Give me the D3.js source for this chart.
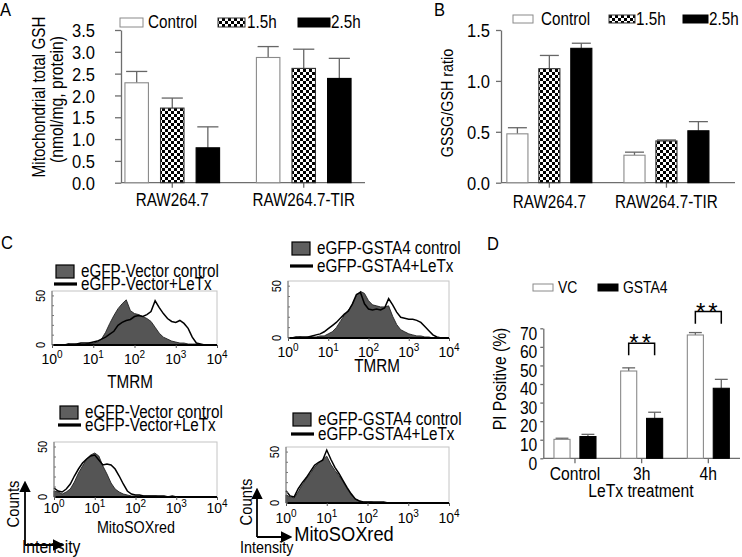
<!DOCTYPE html>
<html><head><meta charset="utf-8">
<script src="https://cdn.jsdelivr.net/npm/d3@7"></script>
<style>body{margin:0;background:#fff}svg{display:block;font-family:"Liberation Sans",Arial,sans-serif}</style>
</head><body><svg id="c" width="742" height="557"></svg>
<script>
// ---------------- DATA ----------------
// Panels A / B
const groupsAB = ["RAW264.7", "RAW264.7-TIR"];
const seriesAB = ["Control", "1.5h", "2.5h"];
const gshControl = [2.29, 2.87];
const gsh15h = [1.71, 2.62];
const gsh25h = [0.80, 2.39];
const gshControlErr = [0.26, 0.25];
const gsh15hErr = [0.23, 0.44];
const gsh25hErr = [0.48, 0.46];
const ratioControl = [0.48, 0.27];
const ratio15h = [1.12, 0.41];
const ratio25h = [1.32, 0.51];
const ratioControlErr = [0.06, 0.03];
const ratio15hErr = [0.13, 0.01];
const ratio25hErr = [0.05, 0.09];
const ticksA = [0, 0.5, 1.0, 1.5, 2.0, 2.5, 3.0, 3.5];
const ticksB = [0, 0.5, 1.0, 1.5];

// Panel D
const treatments = ["Control", "3h", "4h"];
const seriesD = ["VC", "GSTA4"];
const piVC = [10.2, 47.0, 66.4];
const piVCErr = [0.6, 1.7, 1.3];
const piGSTA4 = [11.7, 21.5, 37.7];
const piGSTA4Err = [1.2, 3.3, 4.8];
const ticksD = [0, 10, 20, 30, 40, 50, 60, 70];
const sigTreatments = ["3h", "4h"];
const sigLevels = [62, 79];
const sigLabels = ["**", "**"];

// Panel C histograms: counts at log10(intensity) = 0.0, 0.1, ... 4.0
const histLogPos = d3.range(0, 41).map(i => i / 10);
const histExponents = [0, 1, 2, 3, 4];
const histYTicks = [0, 50];
const tmrmVectorCtrl = [0,0,0,0,1,0,1,1,1,2, 2,3,6,13,22,30,37,42,46,35, 32,31,29,27,24,18,12,8,6,4, 3,2,2,1,1,1,0,0,0,0,0];
const tmrmVectorLeTx = [0,0,0,0,1,1,1,2,2,2, 3,4,6,8,11,14,20,23,25,26, 29,30,29,31,34,45,38,32,27,24, 23,25,22,17,8,2,1,0,0,0,0];
const tmrmGSTA4Ctrl = [0,0,0,1,0,1,1,1,2,2, 4,6,10,16,22,27,32,41,45,43, 36,32,31,30,30,31,21,13,8,6, 4,3,2,2,1,1,0,0,0,0,0];
const tmrmGSTA4LeTx = [0,0,1,1,1,1,2,3,4,6, 9,12,15,19,23,26,33,42,44,33, 28,27,28,27,29,38,32,25,20,19, 18,18,17,15,11,7,3,1,0,0,0];
const msxVectorCtrl = [6,5,3,5,8,15,24,31,38,42, 44,41,31,23,14,8,5,3,2,1, 1,1,1,1,1,1,0,0,0,0, 0,0,0,0,0,0,0,0,0,0,0];
const msxVectorLeTx = [9,6,5,8,13,21,28,34,38,41, 42,37,32,33,32,28,21,13,6,3, 2,2,1,1,1,1,1,1,0,1, 0,0,0,0,0,0,0,0,0,0,0];
const msxGSTA4Ctrl = [8,6,5,11,18,24,29,35,39,43, 46,38,32,27,21,14,8,4,2,1, 1,1,0,0,0,0,0,0,0,0, 0,0,0,0,0,0,0,0,0,0,0];
const msxGSTA4LeTx = [12,7,6,14,20,25,31,37,40,42, 52,43,35,29,22,15,9,4,2,1, 1,1,1,1,1,0,0,0,0,0, 0,0,0,0,0,0,0,0,0,0,0];

// ---------------- DRAW ----------------
const svg = d3.select("#c");
svg.append("rect").attr("width", 742).attr("height", 557).attr("fill", "#fff");
const defs = svg.append("defs");
const pat = defs.append("pattern").attr("id", "chk").attr("width", 6).attr("height", 6).attr("patternUnits", "userSpaceOnUse");
pat.append("rect").attr("width", 6).attr("height", 6).attr("fill", "#fff");
pat.append("rect").attr("width", 3).attr("height", 3).attr("fill", "#000");
pat.append("rect").attr("x", 3).attr("y", 3).attr("width", 3).attr("height", 3).attr("fill", "#000");

const AXIS = "#6e6e6e";
const NARROW = 0.87;
const fillFor = { "Control": "#fff", "1.5h": "url(#chk)", "2.5h": "#000", "VC": "#fff", "GSTA4": "#000" };
const strokeFor = { "Control": "#8a8a8a", "1.5h": "#333", "2.5h": "#000", "VC": "#8a8a8a", "GSTA4": "#000" };

function text(g, x, y, s, size, anchor, rot) {
  const t = g.append("text").attr("x", x).attr("y", y).attr("font-size", size).attr("fill", "#000")
    .attr("text-anchor", anchor || "start").text(s);
  if (rot) t.attr("transform", `rotate(${rot},${x},${y})`);
  return t;
}

function barPanel(cfg) {
  const g = svg.append("g");
  const x0 = d3.scaleBand().domain(cfg.groups).range(cfg.xRange).paddingInner(cfg.pIn).paddingOuter(cfg.pOut);
  const x1 = d3.scaleBand().domain(cfg.series).range([0, x0.bandwidth()]).paddingInner(cfg.sPad).paddingOuter(0);
  const y = d3.scaleLinear().domain(cfg.yDomain).range([cfg.yBottom, cfg.yTop]);
  const ya = g.append("g").attr("transform", `translate(${cfg.axisX},0)`)
    .call(d3.axisLeft(y).tickValues(cfg.ticks).tickFormat(cfg.fmt).tickSize(cfg.tickSize).tickSizeOuter(0).tickPadding(cfg.tickPad));
  ya.selectAll("path,line").attr("stroke", AXIS).attr("stroke-width", 1.3);
  ya.selectAll("text").attr("font-size", cfg.tickFont).attr("font-family", null).attr("fill", "#000").attr("dy", cfg.tickDy || "0.35em");
  g.append("line").attr("x1", cfg.axisX).attr("x2", cfg.xEnd).attr("y1", y(0)).attr("y2", y(0)).attr("stroke", AXIS).attr("stroke-width", 1.3);
  const xa = g.append("g").attr("transform", `translate(0,${y(0)})`)
    .call(d3.axisBottom(x0).tickSize(5).tickPadding(cfg.xPad));
  xa.select(".domain").remove();
  xa.selectAll("line").attr("stroke", AXIS).attr("stroke-width", 1.3);
  xa.selectAll("text").attr("font-size", cfg.xFont).attr("font-family", null).attr("fill", "#000");
  cfg.groups.forEach((grp, gi) => {
    cfg.series.forEach((s, si) => {
      const v = cfg.values[si][gi], e = cfg.errors[si][gi];
      const bx = x0(grp) + x1(s), bw = x1.bandwidth();
      const cx = bx + bw / 2;
      g.append("line").attr("x1", cx).attr("x2", cx).attr("y1", y(v)).attr("y2", y(v + e)).attr("stroke", "#666").attr("stroke-width", 1.3);
      g.append("line").attr("x1", cx - bw * cfg.cap / 2).attr("x2", cx + bw * cfg.cap / 2).attr("y1", y(v + e)).attr("y2", y(v + e)).attr("stroke", "#666").attr("stroke-width", 1.3);
      g.append("rect").attr("x", bx).attr("y", y(v)).attr("width", bw).attr("height", y(0) - y(v))
        .attr("fill", fillFor[s]).attr("stroke", strokeFor[s]).attr("stroke-width", 1.1);
    });
  });
  return { g, x0, x1, y };
}

// ---------- Panel A ----------
text(svg, 0, 16, "A", 19);
barPanel({
  groups: groupsAB, series: seriesAB, xRange: [121, 355], pIn: 0.28, pOut: 0.03, sPad: 0.34,
  yDomain: [0, 3.5], yBottom: 182.7, yTop: 30, axisX: 121, xEnd: 365, ticks: ticksA, fmt: d3.format(".1f"),
  tickSize: 6, tickPad: 20, tickFont: 19, xPad: 6, xFont: 17.5, cap: 0.9,
  values: [gshControl, gsh15h, gsh25h], errors: [gshControlErr, gsh15hErr, gsh25hErr]
});
text(svg, 45, 97, "Mitochondrial total GSH", 17.5, "middle", -90);
text(svg, 63, 99.5, "(nmol/mg, protein)", 18, "middle", -90);
[[120, 23, 148], [218, 27, 247], [298, 32, 331]].forEach((p, i) => {
  svg.append("rect").attr("x", p[0]).attr("y", 18).attr("width", p[1]).attr("height", 9)
    .attr("fill", fillFor[seriesAB[i]]).attr("stroke", strokeFor[seriesAB[i]]);
  text(svg, p[2], 28, seriesAB[i], 17.5);
});

// ---------- Panel B ----------
text(svg, 434, 16, "B", 19);
barPanel({
  groups: groupsAB, series: seriesAB, xRange: [501, 714.8], pIn: 0.274, pOut: 0.05, sPad: 0.34,
  yDomain: [0, 1.5], yBottom: 182.7, yTop: 30, axisX: 501, xEnd: 735, ticks: ticksB, fmt: d3.format(".1f"),
  tickSize: 5, tickPad: 6, tickFont: 19, xPad: 8, xFont: 17.5, cap: 0.9,
  values: [ratioControl, ratio15h, ratio25h], errors: [ratioControlErr, ratio15hErr, ratio25hErr]
});
text(svg, 453, 103, "GSSG/GSH ratio", 16.5, "middle", -90);
[[513, 20, 541], [609, 26, 636], [683, 25, 709]].forEach((p, i) => {
  svg.append("rect").attr("x", p[0]).attr("y", 15).attr("width", p[1]).attr("height", 8)
    .attr("fill", fillFor[seriesAB[i]]).attr("stroke", strokeFor[seriesAB[i]]);
  text(svg, p[2], 25, seriesAB[i], 17.5);
});

// ---------- Panel C ----------
text(svg, 1, 249, "C", 19);
function histPanel(cfg) {
  const g = svg.append("g");
  const x = d3.scaleLog().domain([1, 1e4]).range([cfg.x0, cfg.x1]);
  const y = d3.scaleLinear().domain([0, 55]).range([cfg.bottom, cfg.top]);
  g.append("rect").attr("x", cfg.x0).attr("y", cfg.top).attr("width", cfg.x1 - cfg.x0).attr("height", cfg.bottom - cfg.top)
    .attr("fill", "none").attr("stroke", "#c4c4c4").attr("stroke-width", 1);
  const px = d => x(Math.pow(10, d));
  const area = d3.area().x((d, i) => px(histLogPos[i])).y0(cfg.bottom).y1(d => y(d));
  const line = d3.line().x((d, i) => px(histLogPos[i])).y(d => y(d));
  g.append("path").attr("d", area(cfg.ctrl)).attr("fill", "#555").attr("stroke", "#222").attr("stroke-width", 0.9);
  g.append("path").attr("d", line(cfg.letx)).attr("fill", "none").attr("stroke", "#000").attr("stroke-width", 1.5);
  g.append("line").attr("x1", cfg.x0).attr("x2", cfg.x1).attr("y1", cfg.bottom).attr("y2", cfg.bottom).attr("stroke", "#000").attr("stroke-width", 2.2);
  g.append("line").attr("x1", cfg.x0).attr("x2", cfg.x0).attr("y1", cfg.bottom).attr("y2", cfg.top).attr("stroke", "#777").attr("stroke-width", 1);
  const xa = g.append("g").attr("transform", `translate(0,${cfg.bottom})`)
    .call(d3.axisBottom(x).ticks(4).tickSize(3).tickFormat(""));
  xa.select(".domain").remove();
  xa.selectAll("line").attr("stroke", "#555");
  histExponents.forEach(ex => {
    const t = g.append("text").attr("x", x(Math.pow(10, ex))).attr("y", cfg.bottom + cfg.tickOff).attr("font-size", 14)
      .attr("text-anchor", "middle").attr("fill", "#000");
    t.append("tspan").text("10");
    t.append("tspan").attr("dy", -6).attr("font-size", 10).text(String(ex));
  });
  d3.range(0, 51, 10).forEach(v => g.append("line").attr("x1", cfg.x0).attr("x2", cfg.x0 + 2).attr("y1", y(v)).attr("y2", y(v)).attr("stroke", "#777"));
  histYTicks.forEach(v => text(g, cfg.x0 - 7, y(v), String(v), 12.5, "middle", -90));
  text(g, cfg.titleX, cfg.titleY, cfg.title, cfg.titleFont, "middle");
  g.append("rect").attr("x", cfg.lx).attr("y", cfg.ly1 - 12).attr("width", 18).attr("height", 13)
    .attr("fill", "#5f5f5f").attr("stroke", "#000").attr("stroke-width", 1.2);
  text(g, cfg.lx + 25, cfg.ly1, cfg.names[0], 17.5);
  g.append("line").attr("x1", cfg.lx - 2).attr("x2", cfg.lx + 21).attr("y1", cfg.ly2 - 6).attr("y2", cfg.ly2 - 6)
    .attr("stroke", "#000").attr("stroke-width", 3.2);
  text(g, cfg.lx + 25, cfg.ly2, cfg.names[1], 17.5);
}
histPanel({ x0: 52, x1: 217, bottom: 345, top: 291, ctrl: tmrmVectorCtrl, letx: tmrmVectorLeTx, tickOff: 19,
  title: "TMRM", titleX: 130, titleY: 388, titleFont: 17.5, lx: 56, ly1: 277, ly2: 290,
  names: ["eGFP-Vector control", "eGFP-Vector+LeTx"] });
histPanel({ x0: 288, x1: 449, bottom: 338, top: 281, ctrl: tmrmGSTA4Ctrl, letx: tmrmGSTA4LeTx, tickOff: 19,
  title: "TMRM", titleX: 377, titleY: 372, titleFont: 17.5, lx: 292, ly1: 254, ly2: 272,
  names: ["eGFP-GSTA4 control", "eGFP-GSTA4+LeTx"] });
histPanel({ x0: 54, x1: 217, bottom: 497, top: 442, ctrl: msxVectorCtrl, letx: msxVectorLeTx, tickOff: 16,
  title: "MitoSOXred", titleX: 136, titleY: 533, titleFont: 16.5, lx: 60, ly1: 418, ly2: 431,
  names: ["eGFP-Vector control", "eGFP-Vector+LeTx"] });
histPanel({ x0: 286, x1: 449, bottom: 503, top: 447, ctrl: msxGSTA4Ctrl, letx: msxGSTA4LeTx, tickOff: 20,
  title: "MitoSOXred", titleX: 344, titleY: 541, titleFont: 21, lx: 293, ly1: 425, ly2: 440,
  names: ["eGFP-GSTA4 control", "eGFP-GSTA4+LeTx"] });

defs.append("marker").attr("id", "arr").attr("viewBox", "0 0 10 10").attr("refX", 8).attr("refY", 5)
  .attr("markerWidth", 6.5).attr("markerHeight", 6.5).attr("orient", "auto")
  .append("path").attr("d", "M0,0L10,5L0,10z").attr("fill", "#000");
[[25, 545, 483, 62, 13, 504, 22, 18], [257, 537, 490, 290, 246, 502, 240, 16.5]].forEach(a => {
  svg.append("line").attr("x1", a[0]).attr("y1", a[1]).attr("x2", a[0]).attr("y2", a[2]).attr("stroke", "#000").attr("stroke-width", 1.8).attr("marker-end", "url(#arr)");
  svg.append("line").attr("x1", a[0]).attr("y1", a[1]).attr("x2", a[3]).attr("y2", a[1]).attr("stroke", "#000").attr("stroke-width", 1.8).attr("marker-end", "url(#arr)");
  text(svg, a[4] + 6, a[5], "Counts", 17, "middle", -90);
  text(svg, a[6], 553, "Intensity", a[7], "start");
});

// ---------- Panel D ----------
text(svg, 487, 250, "D", 19);
const pd = barPanel({
  groups: treatments, series: seriesD, xRange: [543.3, 740], pIn: 0.37, pOut: 0.16, sPad: 0.38,
  yDomain: [0, 70], yBottom: 458.3, yTop: 328.3, axisX: 543.3, xEnd: 740, ticks: ticksD, fmt: d3.format("d"),
  tickSize: 3, tickPad: 3, tickFont: 18, tickDy: "0.6em", xPad: 4, xFont: 18, cap: 0.8,
  values: [piVC, piGSTA4], errors: [piVCErr, piGSTA4Err]
});
text(svg, 641, 497, "LeTx treatment", 18, "middle");
text(svg, 506, 379, "PI Positive (%)", 18, "middle", -90);
[[533, 558], [598, 623]].forEach((p, i) => {
  svg.append("rect").attr("x", p[0]).attr("y", 284).attr("width", 20).attr("height", 7)
    .attr("fill", fillFor[seriesD[i]]).attr("stroke", strokeFor[seriesD[i]]);
  text(svg, p[1], 292.5, seriesD[i], 16);
});
sigTreatments.forEach((t, i) => {
  const xa = pd.x0(t) + pd.x1("VC") + pd.x1.bandwidth() / 2;
  const xb = pd.x0(t) + pd.x1("GSTA4") + pd.x1.bandwidth() / 2;
  const yt = pd.y(sigLevels[i]), yb = pd.y(sigLevels[i] - 6.5);
  svg.append("path").attr("d", `M${xa},${yb}V${yt}H${xb}V${yb}`).attr("fill", "none").attr("stroke", "#000").attr("stroke-width", 1.5);
  text(svg, (xa + xb) / 2, yt + 8, sigLabels[i], 24, "middle").attr("letter-spacing", 3).classed("nocomp", true);
});

// narrow the sans glyphs to mimic the condensed typeface of the reference
svg.selectAll("text").each(function () {
  if (this.querySelector("tspan") || this.classList.contains("nocomp")) return;
  const w = this.getComputedTextLength();
  if (w > 0) { this.setAttribute("textLength", (w * NARROW).toFixed(2)); this.setAttribute("lengthAdjust", "spacingAndGlyphs"); }
});
</script></body></html>
